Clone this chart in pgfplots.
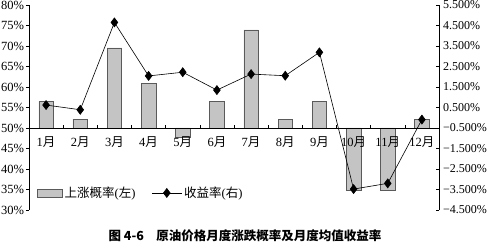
\documentclass[border=0pt]{standalone}
\usepackage{fontspec}
\setmainfont{Liberation Serif}
\newfontfamily\cjk{Noto Sans CJK SC}
\usepackage{pgfplots}
\usepackage{pgfplotstable}
\pgfplotsset{compat=1.18}
\definecolor{barfill}{RGB}{196,196,196}
\definecolor{bardraw}{RGB}{90,90,90}
\newcommand{\yue}{{\cjk 月}}
\pgfplotsset{mylinelegend/.style={legend image code/.code={\draw[mark repeat=2, mark phase=2, ##1] plot coordinates {(0pt,0pt) (15pt,0pt) (30pt,0pt)};}}}
\pgfplotstableread{
m p r
0 56.52 0.62
1 52.17 0.39
2 69.57 4.65
3 60.87 2.04
4 47.83 2.22
5 56.52 1.35
6 73.91 2.13
7 52.17 2.05
8 56.52 3.19
9 34.78 -3.48
10 34.78 -3.20
11 52.17 -0.09
}\data
\begin{document}
\begin{tikzpicture}[font=\fontsize{12}{14}\selectfont]
\begin{axis}[
  at={(0,0)}, anchor=south west, scale only axis,
  width=410pt, height=205pt,
  xmin=-0.5, xmax=11.5, ymin=-20, ymax=30,
  axis on top,
  axis y line*=left, axis x line*=middle,
  axis line style={-, line width=0.6pt, black},
  ytick={-20,-15,...,30},
  yticklabels={30\%,35\%,40\%,45\%,50\%,55\%,60\%,65\%,70\%,75\%,80\%},
  xtick={0,...,11},
  xticklabels={1\yue,2\yue,3\yue,4\yue,5\yue,6\yue,7\yue,8\yue,9\yue,10\yue,11\yue,12\yue},
  minor xtick={-0.5,0.5,...,11.5},
  major x tick style={draw=none},
  minor x tick style={black, line width=0.5pt},
  minor tick length=3pt,
  xtick align=inside,
  ytick align=outside,
  major tick length=3pt,
  y tick style={black, line width=0.5pt},
  xticklabel style={font=\fontsize{12.5}{14}\selectfont, yshift=-5pt},
  yticklabel style={font=\fontsize{12.5}{15}\selectfont, xshift=1.5pt},
]
\addplot[ybar, bar width=14.5pt, bar shift=0pt, fill=barfill, draw=bardraw, line width=0.5pt]
  table[x=m, y expr=\thisrow{p}-50] {\data};
\end{axis}
\begin{axis}[
  at={(0,0)}, anchor=south west, scale only axis,
  width=410pt, height=205pt,
  xmin=-0.5, xmax=11.5, ymin=-4.5, ymax=5.5,
  axis y line*=right, axis x line=none,
  axis line style={-, line width=0.6pt, black},
  ytick={-4.5,-3.5,...,5.5},
  yticklabels={−4.500\%,−3.500\%,−2.500\%,−1.500\%,−0.500\%,0.500\%,1.500\%,2.500\%,3.500\%,4.500\%,5.500\%},
  ytick align=inside,
  major tick length=3pt,
  y tick style={black, line width=0.5pt},
  yticklabel style={font=\fontsize{12}{15}\selectfont, xshift=3pt, inner xsep=1pt},
  legend columns=2,
  legend style={draw=none, fill=none, at={(0.0195,0.083)}, anchor=west,
    inner xsep=0pt, inner ysep=0pt,
    font=\fontsize{12.5}{14}\selectfont,
    /tikz/every even column/.append style={column sep=14pt}},
]
\addlegendimage{legend image code/.code={\draw[fill=barfill, draw=bardraw, line width=0.5pt] (0pt,-4pt) rectangle (25pt,4pt);}}
\addlegendentry{{\cjk 上涨概率}({\cjk 左})}
\addplot[black, line width=0.6pt, mark=diamond*, mark size=4.5pt, mylinelegend]
  table[x=m, y=r] {\data};
\addlegendentry{{\cjk 收益率}({\cjk 右})}
\end{axis}
\node[font=\cjk\bfseries\fontsize{12.5}{14}\selectfont] at (216pt,-26pt) {图 4-6\hspace{1em}原油价格月度涨跌概率及月度均值收益率};
\pgfresetboundingbox
\path (-29pt,-33pt) rectangle (461pt,210pt);
\end{tikzpicture}
\end{document}
